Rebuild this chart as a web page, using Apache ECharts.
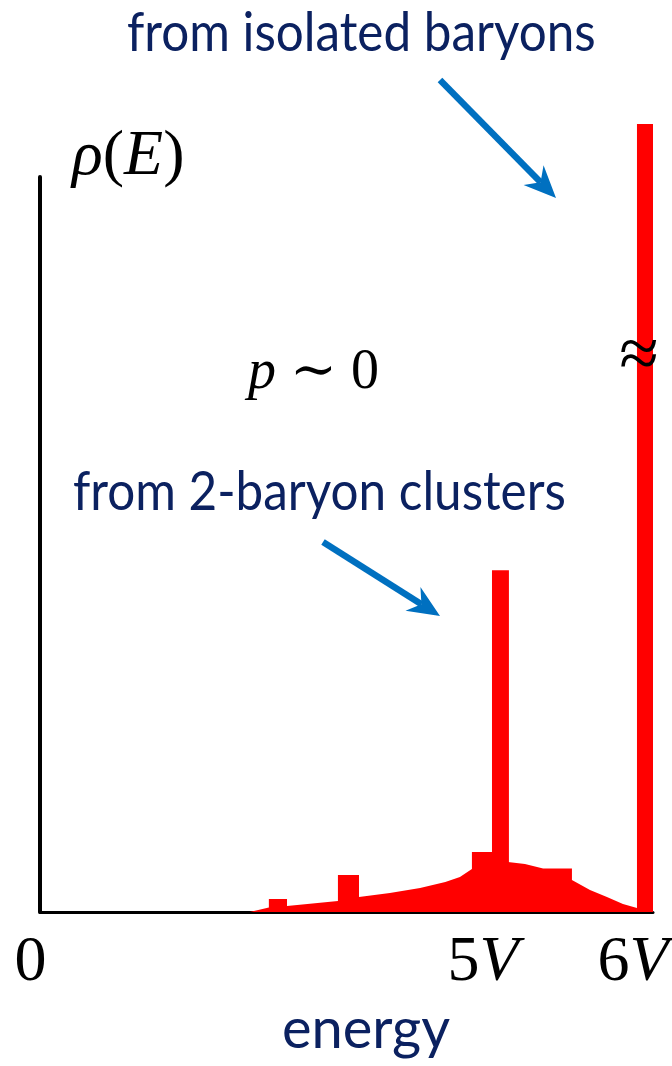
<!DOCTYPE html>
<html>
<head>
<meta charset="utf-8">
<script src="https://cdn.jsdelivr.net/npm/echarts@6/dist/echarts.min.js"></script>
<style>
  html, body { margin: 0; padding: 0; background: #ffffff; }
  #chart { width: 672px; height: 1066px; }
</style>
</head>
<body>
<div id="chart"></div>
<script>
// Density of states rho(E) versus energy (E in units of V, rho in arbitrary units).

// Broad continuum: [energy, density] outline, including the small histogram steps.
const continuum = [
  [2.08, 0], [2.27, 0.6], [2.27, 1.77], [2.45, 1.77], [2.45, 0.82],
  [2.955, 1.5], [2.955, 5.03], [3.164, 5.03], [3.164, 2.04],
  [3.47, 2.59], [3.77, 3.27], [4.02, 4.08], [4.165, 4.75], [4.284, 5.85],
  [4.284, 8.16], [4.483, 8.16], [4.641, 6.8], [4.81, 6.53], [4.99, 5.92],
  [5.276, 5.92], [5.276, 4.35], [5.455, 2.99], [5.623, 2.04], [5.782, 1.09],
  [5.921, 0.54], [5.921, 0]
];

// Sharp peaks: energy bin edges and heights (2-baryon clusters, isolated baryons).
const peakStart = [4.483, 5.921];
const peakEnd = [4.651, 6.08];
const peakHeight = [46.5, 107.2];

// Energy tick labels and where they sit on the energy axis.
const tickLabels = ['0', '5V', '6V'];
const tickValues = [-0.094, 4.394, 5.881];

const NAVY = '#0b2160';
const BLUE = '#0070c0';
const RED = '#ff0000';
const SERIF = '"Liberation Serif", "DejaVu Serif", serif';
const SANS = 'Lato, "Open Sans", sans-serif';

const chart = echarts.init(document.getElementById('chart'), null, { renderer: 'canvas' });

const peaks = peakStart.map((s, i) => [s, peakEnd[i], peakHeight[i]]);

chart.setOption({
  animation: false,
  backgroundColor: '#ffffff',
  grid: { left: 40, right: 19, top: 177, bottom: 154 },
  xAxis: {
    type: 'value', min: 0, max: 6.08,
    axisLine: { show: true, onZero: false, lineStyle: { color: '#000', width: 3 } },
    axisTick: { show: false }, axisLabel: { show: false }, splitLine: { show: false }
  },
  yAxis: {
    type: 'value', min: 0, max: 100,
    axisLine: { show: true, lineStyle: { color: '#000', width: 4 } },
    axisTick: { show: false }, axisLabel: { show: false }, splitLine: { show: false }
  },
  series: [
    {
      type: 'line',
      data: continuum,
      showSymbol: false,
      symbol: 'none',
      lineStyle: { width: 0 },
      areaStyle: { color: RED, opacity: 1, origin: 'start' },
      z: 1
    },
    {
      type: 'custom',
      clip: false,
      data: peaks,
      encode: { x: [0, 1], y: 2 },
      renderItem: function (params, api) {
        const tl = api.coord([api.value(0), api.value(2)]);
        const br = api.coord([api.value(1), 0]);
        return {
          type: 'rect',
          shape: { x: tl[0], y: tl[1], width: br[0] - tl[0], height: br[1] - tl[1] },
          style: { fill: RED }
        };
      },
      z: 2
    }
  ]
});

// Arrow built from a start point and a tip.
function arrow(x1, y1, x2, y2) {
  const dx = x2 - x1, dy = y2 - y1;
  const len = Math.sqrt(dx * dx + dy * dy);
  const ux = dx / len, uy = dy / len;
  const nx = -uy, ny = ux;
  const L = 32, W = 14, notch = 22;
  const bx = x2 - L * ux, by = y2 - L * uy;
  const mx = x2 - notch * ux, my = y2 - notch * uy;
  return [
    { type: 'line', shape: { x1: x1, y1: y1, x2: mx, y2: my },
      style: { stroke: BLUE, lineWidth: 6.5 }, z: 50 },
    { type: 'polygon',
      shape: { points: [[x2, y2], [bx + W * nx, by + W * ny], [mx, my], [bx - W * nx, by - W * ny]] },
      style: { fill: BLUE }, z: 50 }
  ];
}

const tickY = 963;
const tickElems = tickLabels.map((t, i) => {
  const px = chart.convertToPixel({ xAxisIndex: 0 }, tickValues[i]);
  return {
    type: 'text', x: px, y: tickY, z: 60,
    style: {
      text: t.replace('V', '{i|V}'),
      font: '64px ' + SERIF, fill: '#000', align: 'center', verticalAlign: 'middle',
      rich: { i: { fontFamily: SERIF, fontSize: 64, fontStyle: 'italic', fill: '#000' } }
    }
  };
});

chart.setOption({
  graphic: [
    { type: 'text', x: 127, y: 34, scaleX: 0.915, z: 60,
      style: { text: 'from isolated baryons', font: '54px ' + SANS, fill: NAVY,
               align: 'left', verticalAlign: 'middle' } },
    { type: 'text', x: 73, y: 493, scaleX: 0.915, z: 60,
      style: { text: 'from 2-baryon clusters', font: '54px ' + SANS, fill: NAVY,
               align: 'left', verticalAlign: 'middle' } },
    { type: 'text', x: 366, y: 1030, z: 60,
      style: { text: 'energy', font: '56px ' + SANS, fill: NAVY,
               align: 'center', verticalAlign: 'middle' } },
    { type: 'text', x: 72, y: 157, z: 60,
      style: {
        text: '{i|ρ}({i|E})', font: '64px ' + SERIF, fill: '#000',
        align: 'left', verticalAlign: 'middle',
        rich: { i: { fontFamily: SERIF, fontSize: 64, fontStyle: 'italic', fill: '#000' } }
      } },
    { type: 'text', x: 248, y: 373, z: 60,
      style: {
        text: '{i|p} ∼ 0', font: '56px ' + SERIF, fill: '#000',
        align: 'left', verticalAlign: 'middle',
        rich: { i: { fontFamily: SERIF, fontSize: 56, fontStyle: 'italic', fill: '#000' } }
      } },
    { type: 'text', x: 639, y: 358, z: 60,
      style: { text: '≈', font: '72px ' + SERIF, fill: '#000', align: 'center', verticalAlign: 'middle' } }
  ].concat(tickElems, arrow(440, 80, 556, 198), arrow(323, 542, 440, 616))
});
</script>
</body>
</html>
